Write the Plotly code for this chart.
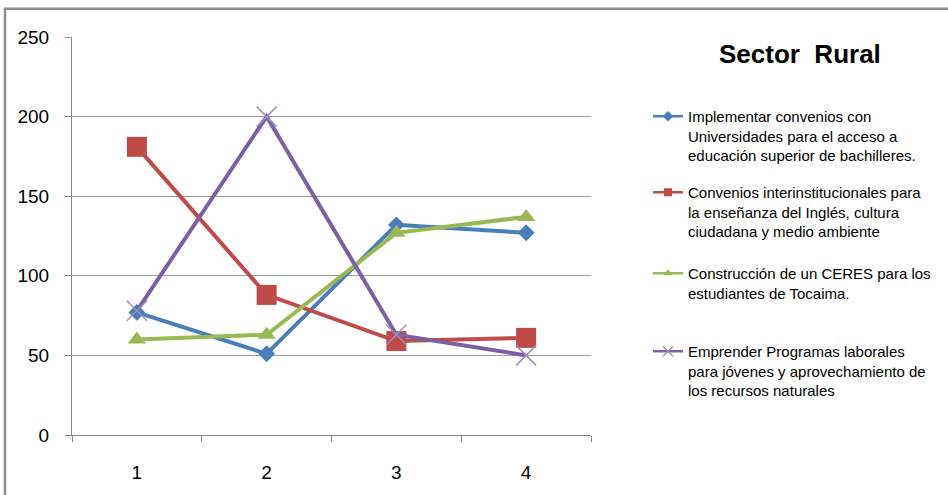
import plotly.graph_objects as go

categories = ["1", "2", "3", "4"]
series_names = [
    "Implementar convenios con<br>Universidades para el acceso a<br>educación superior de bachilleres.",
    "Convenios interinstitucionales para<br>la enseñanza del Inglés, cultura<br>ciudadana y medio ambiente",
    "Construcción de un CERES para los<br>estudiantes de Tocaima.",
    "Emprender Programas laborales<br>para jóvenes y aprovechamiento de<br>los recursos naturales",
]
blue_vals = [77, 51, 132, 127]
red_vals = [181, 88, 59, 61]
green_vals = [60, 63, 127, 137]
purple_vals = [78, 200, 63, 50]
y_ticks = [0, 50, 100, 150, 200, 250]

FONT = "Liberation Sans Narrow, Arial Narrow, Liberation Sans, Arial, sans-serif"
colors = ["#4A7EBB", "#BE4B48", "#98B954", "#7D60A0"]
symbols = ["diamond", "square", "triangle-up", "x-thin-open"]
sizes = [13, 20, 16, 20]
values = [blue_vals, red_vals, green_vals, purple_vals]
legend_ids = ["legend", "legend2", "legend3", "legend4"]

fig = go.Figure()
for i in range(4):
    mk = dict(symbol=symbols[i], size=sizes[i], color=colors[i])
    if symbols[i] == "x-thin-open":
        mk = dict(symbol="x-thin-open", size=sizes[i], color="#9E8CC4",
                  line=dict(width=1.5, color="#9E8CC4"))
    fig.add_trace(go.Scatter(
        x=categories, y=values[i], mode="lines+markers",
        line=dict(color=colors[i], width=4), marker=mk,
        showlegend=False, hoverinfo="skip"))
for i in range(4):
    mk = dict(symbol=symbols[i], size=8, color=colors[i])
    if symbols[i] == "x-thin-open":
        mk = dict(symbol="x-thin-open", size=10, color="#9E8CC4",
                  line=dict(width=1.2, color="#9E8CC4"))
    fig.add_trace(go.Scatter(
        x=[None], y=[None], mode="lines+markers", name=series_names[i],
        line=dict(color=colors[i], width=2.5), marker=mk,
        showlegend=True, legend=legend_ids[i]))

leg_common = dict(font=dict(family=FONT, size=15, color="#000"),
                  bgcolor="rgba(0,0,0,0)", valign="top", xanchor="left",
                  yanchor="top", itemwidth=30, xref="container", yref="container")
legend_y_px = [100, 176, 257, 335]
for i, lid in enumerate(legend_ids):
    fig.update_layout(**{lid: dict(leg_common, x=648 / 948, y=1 - legend_y_px[i] / 495)})

fig.update_layout(
    width=948, height=495,
    margin=dict(l=72, r=357, t=37, b=58),
    paper_bgcolor="white", plot_bgcolor="white",
    font=dict(family=FONT, size=19, color="#000"),
    xaxis=dict(type="category", range=[-0.5, 3.5], tickson="boundaries",
               ticks="outside", ticklen=6, tickcolor="#888", showgrid=False,
               showline=True, linecolor="#888", linewidth=1,
               ticklabelstandoff=20, tickfont=dict(size=19)),
    yaxis=dict(range=[0, 250], tickvals=y_ticks, ticks="outside", ticklen=6,
               tickcolor="#888", showgrid=True, gridcolor="#A0A0A0", gridwidth=1,
               showline=True, linecolor="#888", linewidth=1, zeroline=False,
               ticklabelstandoff=12, tickfont=dict(size=19)),
    annotations=[dict(text="<b>Sector\u00a0\u00a0Rural</b>", xref="paper", yref="paper",
                      x=(800 - 72) / 519, y=(437 - 54) / 400, xanchor="center",
                      yanchor="middle", showarrow=False,
                      font=dict(family=FONT, size=26, color="#000"))],
    shapes=[dict(type="rect", xref="paper", yref="paper",
                 x0=(5 - 72) / 519, x1=(960 - 72) / 519,
                 y0=(437 - 510) / 400, y1=(437 - 8.5) / 400,
                 line=dict(color="#8C8C8C", width=2.5), layer="below")],
)

fig.write_html("out.html", config={"displayModeBar": False},
               post_script="document.body.style.margin='0';document.body.style.overflow='hidden';")
